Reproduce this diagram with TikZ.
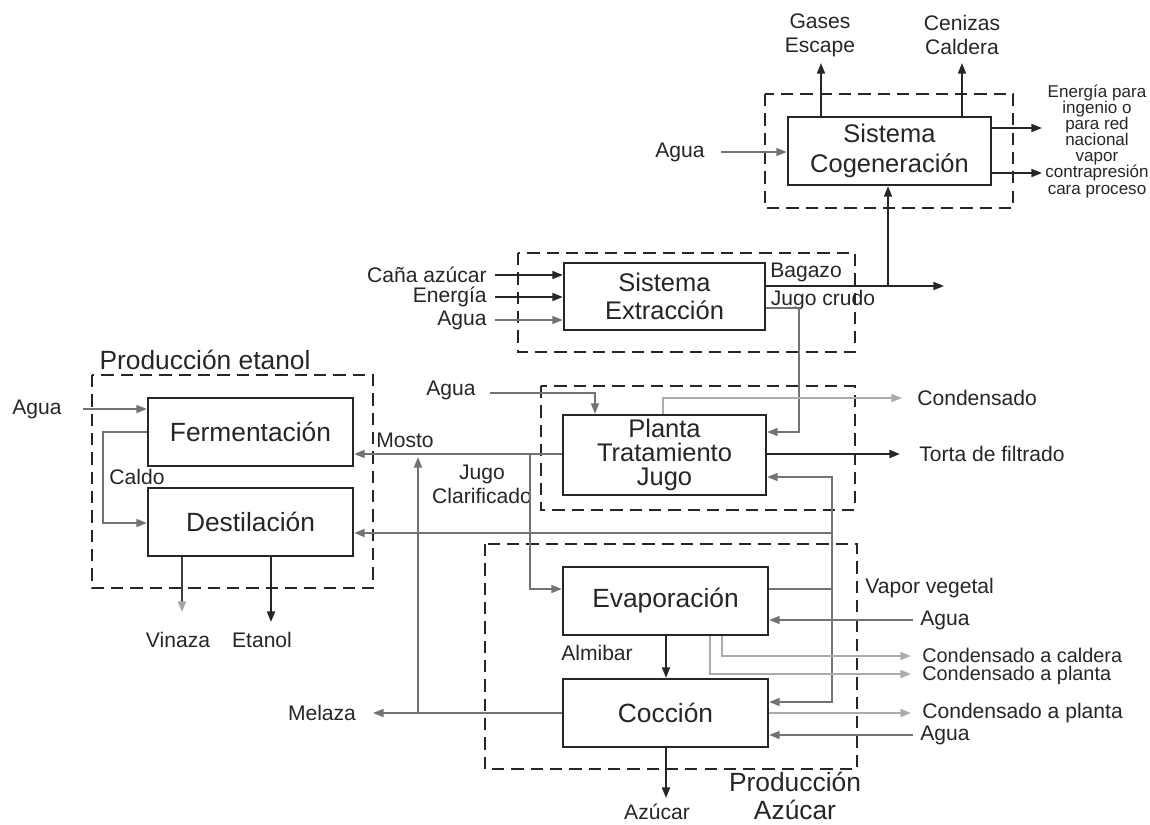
\documentclass[tikz,border=0pt]{standalone}
\usepackage{fontspec}
\setmainfont{Liberation Sans}
\usetikzlibrary{arrows.meta}
\tikzset{
  box/.style={draw=black!85, line width=1.3pt, fill=white, inner sep=0pt, align=center, text=black!85},
  region/.style={draw=black!85, line width=1.6pt, dash pattern=on 7pt off 4pt},
  lbl/.style={inner sep=0pt, align=center, font=\fontsize{12}{13.6}\selectfont, text=black!85},
  slbl/.style={lbl, font=\fontsize{11.3}{12}\selectfont},
  blk/.style={draw=black!85, line width=1.1pt, -{Triangle[length=6pt,width=4.5pt]}},
  gry/.style={draw=black!55, line width=1pt, -{Triangle[length=6pt,width=4.5pt]}},
  lgry/.style={draw=black!33, line width=1pt, -{Triangle[length=6pt,width=4.5pt]}},
  gline/.style={draw=black!55, line width=1pt},
}
\begin{document}
\begin{tikzpicture}[x=0.02cm,y=-0.02cm]
\useasboundingbox (0,0) rectangle (1150,825);
% regions
\draw[region] (765,94) rectangle (1013,208);
\draw[region] (518,253) rectangle (855,352);
\draw[region] (541,386) rectangle (855,510);
\draw[region] (92,375) rectangle (373,588);
\draw[region] (485,544) rectangle (857,769);
% boxes
\node[box, minimum width=4.06cm, minimum height=1.36cm, font=\fontsize{14.5}{17}\selectfont] (cog) at (889.5,151) {Sistema\\Cogeneración};
\node[box, minimum width=4.02cm, minimum height=1.34cm, font=\fontsize{14.5}{16}\selectfont] (ext) at (664.5,296.5) {Sistema\\Extracción};
\node[box, minimum width=4.06cm, minimum height=1.6cm, font=\fontsize{14.5}{13.8}\selectfont] (planta) at (664.5,455) {Planta\\Tratamiento\\Jugo};
\node[box, minimum width=4.1cm, minimum height=1.36cm, font=\fontsize{15}{17}\selectfont] (ferm) at (250.5,432) {Fermentación};
\node[box, minimum width=4.1cm, minimum height=1.36cm, font=\fontsize{15}{17}\selectfont] (dest) at (250.5,522) {Destilación};
\node[box, minimum width=4.1cm, minimum height=1.36cm, font=\fontsize{15}{17}\selectfont] (evap) at (665.5,601) {Evaporación};
\node[box, minimum width=4.1cm, minimum height=1.36cm, font=\fontsize{15}{17}\selectfont] (cocc) at (665.5,713) {Cocción};
% titles
\node[lbl, font=\fontsize{15}{16}\selectfont] (tetanol) at (205,360) {Producción etanol};
\node[lbl, font=\fontsize{15}{15.5}\selectfont] (tazucar) at (795,796) {Producción\\Azúcar};
% labels
\node[lbl] (gases) at (820,35) {Gases\\Escape};
\node[lbl] (cenizas) at (962,35) {Cenizas\\Caldera};
\node[lbl, font=\fontsize{9.7}{9.2}\selectfont] (energiared) at (1097,141) {Energía para\\ingenio o\\para red\\nacional\\vapor\\contrapresión\\cara proceso};
\node[lbl, anchor=east] (agua0) at (705,152) {Agua};
\node[lbl, anchor=east] (cana) at (487,275) {Caña azúcar};
\node[lbl, anchor=east] (energia) at (487,297) {Energía};
\node[lbl, anchor=east] (agua1) at (487,320) {Agua};
\node[lbl] (bagazo) at (806,272) {Bagazo};
\node[lbl] (jcrudo) at (823,300) {Jugo crudo};
\node[lbl] (agua2) at (451,390) {Agua};
\node[lbl, anchor=west] (condensado) at (917,398) {Condensado};
\node[lbl, anchor=west] (torta) at (919,454) {Torta de filtrado};
\node[lbl] (mosto) at (405,440) {Mosto};
\node[lbl] (jclar) at (482,484) {Jugo\\Clarificado};
\node[lbl] (agua3) at (37,409) {Agua};
\node[lbl] (caldo) at (137,477) {Caldo};
\node[lbl] (vinaza) at (178,640) {Vinaza};
\node[lbl] (etanol) at (262,640) {Etanol};
\node[lbl, anchor=west] (vapveg) at (865,588) {Vapor vegetal};
\node[lbl, anchor=west] (agua4) at (920,620) {Agua};
\node[slbl, anchor=west] (ccald) at (922,655) {Condensado a caldera};
\node[slbl, anchor=west] (cplan1) at (922,675) {Condensado a planta};
\node[lbl, anchor=west] (cplan2) at (922,713) {Condensado a planta};
\node[lbl, anchor=west] (agua5) at (920,735) {Agua};
\node[lbl] (almibar) at (597,653) {Almibar};
\node[lbl] (melaza) at (322,713) {Melaza};
\node[lbl] (azucar) at (657,812) {Azúcar};
% coordinates
\coordinate (gasesTip) at (821,63);
\coordinate (cenizasTip) at (962,63);
\coordinate (e1) at (1042,128);
\coordinate (e2) at (1042,173);
\coordinate (bagEnd) at (944,286);
\coordinate (bj) at (888,286);
\coordinate (condTip) at (902,398);
\coordinate (tortaTip) at (900,454);
\coordinate (vv) at (832,589);
\coordinate (vd) at (832,533);
\coordinate (jc) at (530,454);
\coordinate (mj) at (418,713);
\coordinate (mTip) at (418,457);
\coordinate (melTip) at (373,713);
\coordinate (vinTip) at (182,612);
\coordinate (etaTip) at (271,622);
\coordinate (c1Tip) at (911,656);
\coordinate (c2Tip) at (911,674);
\coordinate (c3Tip) at (911,713);
\coordinate (azTip) at (666,798);
% cogeneration
\draw[gry, shorten <=9pt] (agua0.east) -- (cog.west |- agua0.east);
\draw[blk] (cog.north -| gasesTip) -- (gasesTip);
\draw[blk] (cog.north -| cenizasTip) -- (cenizasTip);
\draw[blk] (cog.east |- e1) -- (e1);
\draw[blk] (cog.east |- e2) -- (e2);
\draw[blk] (bj) -- (cog.south -| bj);
% extraction
\draw[blk, shorten <=4.5pt] (cana.east) -- (ext.west |- cana.east);
\draw[blk, shorten <=4.5pt] (energia.east) -- (ext.west |- energia.east);
\draw[gry, shorten <=4.5pt] (agua1.east) -- (ext.west |- agua1.east);
\draw[blk] (ext.east |- bagEnd) -- (bagEnd);
\draw[gry] (ext.east |- 0,308) -| (799,432) -- (planta.east |- 0,432);
% planta
\draw[gry, shorten <=8pt] (agua2.east |- 0,393) -| (planta.north -| 595,0);
\draw[lgry] (planta.north -| 663,0) |- (condTip);
\draw[blk] (planta.east |- tortaTip) -- (tortaTip);
\draw[gry] (planta.west |- jc) -- (ferm.east |- jc);
\draw[gry] (jc) |- (evap.west |- vv);
\draw[gline] (evap.east |- vv) -- (vv);
\draw[gry] (vv) |- (planta.east |- 0,477);
\draw[gry] (vd) -- (dest.east |- vd);
\draw[gry] (vv) |- (cocc.east |- 0,702);
\draw[gry] (cocc.west |- mj) -- (melTip);
\draw[gry] (mj) -- (mTip);
% etanol
\draw[gry, shorten <=12pt] (agua3.east) -- (ferm.west |- agua3.east);
\draw[gry] (ferm.west |- 0,432) -| (103,523) -- (dest.west |- 0,523);
\draw[draw=black!75, line width=1.1pt, -{Triangle[length=6pt,width=4.5pt,color=black!35]}] (dest.south -| vinTip) -- (vinTip);
\draw[blk] (dest.south -| etaTip) -- (etaTip);
% azucar
\draw[gry, shorten <=4pt] (agua4.west) -- (evap.east |- agua4.west);
\draw[lgry] (evap.south -| 722,0) |- (c1Tip);
\draw[lgry] (evap.south -| 710,0) |- (c2Tip);
\draw[blk] (evap.south -| 666,0) -- (cocc.north -| 666,0);
\draw[lgry] (cocc.east |- c3Tip) -- (c3Tip);
\draw[gry, shorten <=4pt] (agua5.west) -- (cocc.east |- agua5.west);
\draw[blk] (cocc.south -| azTip) -- (azTip);
\end{tikzpicture}
\end{document}
